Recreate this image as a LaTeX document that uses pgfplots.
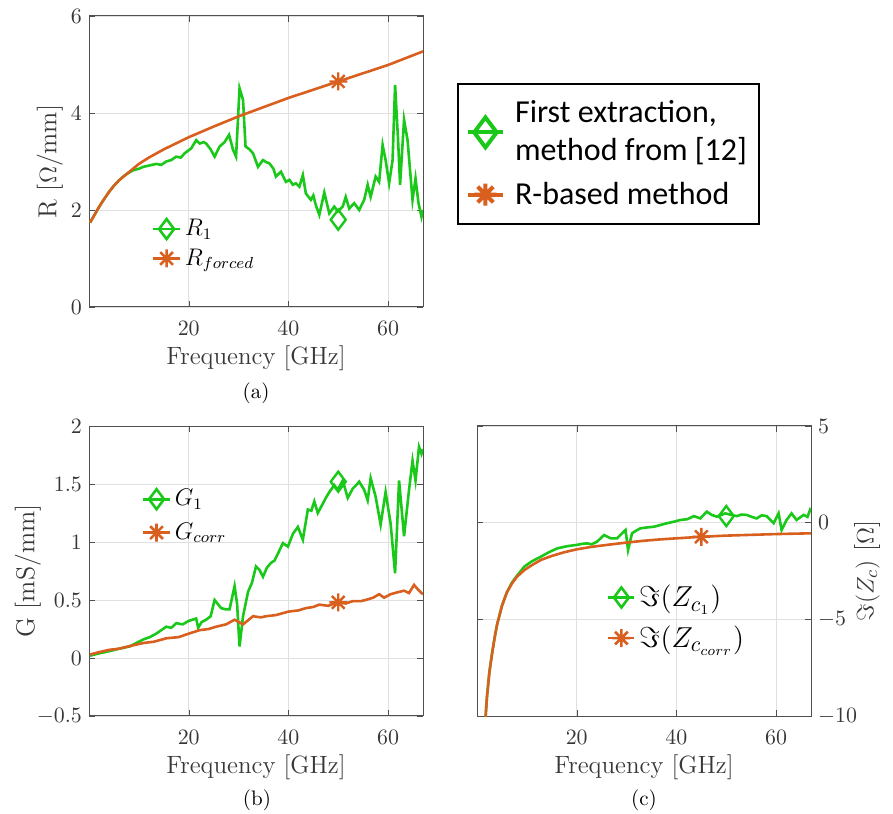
\documentclass[border=0pt]{standalone}
\usepackage{fontspec}
\usepackage{pgfplots}
\pgfplotsset{compat=1.18}
\newfontfamily\legfont{Carlito}

\definecolor{mgreen}{RGB}{25,200,25}
\definecolor{morange}{RGB}{217,95,30}
\definecolor{axgray}{RGB}{80,80,80}
\definecolor{txtgray}{RGB}{55,55,55}

% matlab style '*' marker (plus and cross)
\pgfdeclareplotmark{mstar}{%
  \pgfpathmoveto{\pgfqpoint{0pt}{\pgfplotmarksize}}\pgfpathlineto{\pgfqpoint{0pt}{-\pgfplotmarksize}}%
  \pgfpathmoveto{\pgfqpoint{\pgfplotmarksize}{0pt}}\pgfpathlineto{\pgfqpoint{-\pgfplotmarksize}{0pt}}%
  \pgfpathmoveto{\pgfqpoint{.7071\pgfplotmarksize}{.7071\pgfplotmarksize}}\pgfpathlineto{\pgfqpoint{-.7071\pgfplotmarksize}{-.7071\pgfplotmarksize}}%
  \pgfpathmoveto{\pgfqpoint{-.7071\pgfplotmarksize}{.7071\pgfplotmarksize}}\pgfpathlineto{\pgfqpoint{.7071\pgfplotmarksize}{-.7071\pgfplotmarksize}}%
  \pgfusepathqstroke}

\pgfplotsset{
  panel/.style={
    scale only axis, width=167pt, height=145pt,
    xmin=0, xmax=67, xtick={20,40,60},
    grid=major, grid style={black!12, line width=0.4pt},
    axis line style={axgray, line width=0.5pt},
    tick style={axgray}, tick align=inside, major tick length=3pt,
    ticklabel style={font=\fontsize{11}{13}\selectfont, text=txtgray},
    xticklabel style={yshift=-3.5pt},
    label style={font=\fontsize{12.5}{14}\selectfont, text=txtgray},
    xlabel={Frequency [GHz]},
    xlabel style={at={(axis description cs:0.5,-0.175)}, anchor=center},
    legend style={draw=none, fill=none, font=\fontsize{12}{14}\selectfont, cells={anchor=west}},
    legend image code/.code={\draw[mark repeat=2,mark phase=2] plot coordinates {(0cm,0cm)(0.23cm,0cm)(0.46cm,0cm)};},
    clip mode=individual,
  },
  gline/.style={color=mgreen, line width=1.3pt, no markers},
  oline/.style={color=morange, line width=1.3pt, no markers},
  gmark/.style={color=mgreen, line width=1.2pt, only marks, mark=diamond, mark size=5pt},
  omark/.style={color=morange, line width=1.2pt, only marks, mark=mstar, mark size=4.5pt},
}

\begin{document}
\begin{tikzpicture}
\path[use as bounding box] (0,0) rectangle (446.5pt,406.5pt);

% ---------- (a) ----------
\begin{axis}[panel, at={(44.5pt,253pt)}, anchor=south west, height=145.5pt,
  ymin=0, ymax=6, ytick={0,2,4,6},
  ylabel={R [$\Omega$/mm]},
  ylabel style={at={(axis description cs:-0.117,0.5)}, anchor=center, font=\fontsize{13}{15}\selectfont},
  legend style={at={(0.17,0.33)}, anchor=north west, row sep=1pt}]
\addplot[gline, forget plot] coordinates {
(0.2,1.74) (1,1.88) (2,2.06) (3,2.22) (4,2.37) (5,2.50) (6,2.61) (7,2.70) (8,2.77)
(8.9,2.82) (10.0,2.85) (10.9,2.89) (12.2,2.92) (13.5,2.95) (14.5,2.93) (15.5,3.00) (16.5,3.03)
(17.5,3.10) (18.4,3.08) (19.2,3.17) (20.5,3.27) (21.5,3.44) (22.2,3.37) (23.0,3.40) (23.5,3.37)
(24.4,3.25) (25.2,3.10) (26.2,3.31) (27.2,3.40) (28.1,3.55) (28.9,3.24) (29.5,3.10) (30.2,4.51)
(30.9,4.27) (31.4,3.31) (32.2,3.25) (32.9,3.17) (33.9,2.89) (34.9,3.03) (35.5,2.99) (36.2,2.96)
(37.0,2.85) (37.5,2.69) (38.5,2.79) (39.5,2.58) (40.2,2.62) (40.9,2.52) (41.5,2.55) (42.2,2.48)
(42.9,2.72) (43.5,2.34) (44.5,2.21) (45.0,2.30) (45.5,2.10) (46.2,1.90) (47.2,2.36) (48.2,1.93)
(49.2,2.07) (49.9,1.97) (50.9,2.07) (51.5,2.27) (52.2,2.03) (53.2,2.14) (54.2,2.00) (55.2,2.21)
(55.9,2.52) (56.5,2.27) (57.5,2.69) (58.2,2.58) (58.9,3.34) (59.5,3.03) (60.2,2.55) (60.9,3.03)
(61.4,4.58) (62.0,3.44) (62.4,2.52) (63.2,3.86) (63.9,3.44) (64.9,2.21) (65.5,2.65) (66.1,2.14)
(66.7,1.86) (67,2.0)
};
\addplot[oline, forget plot] coordinates {
(0.2,1.74) (1,1.88) (2,2.06) (3,2.22) (4,2.37) (5,2.50) (6,2.61) (8,2.78) (10,2.95)
(12,3.08) (15,3.25) (20,3.50) (25,3.72) (30,3.93) (35,4.12) (40,4.31) (45,4.48) (50,4.65)
(55,4.82) (60,4.99) (67,5.27)
};
\addplot[gmark, forget plot] coordinates {(50,1.80)};
\addplot[omark, forget plot] coordinates {(50,4.65)};
\addlegendimage{color=mgreen, line width=1.3pt, mark=diamond, mark size=5pt}
\addlegendentry{$R_1$}
\addlegendimage{color=morange, line width=1.3pt, mark=mstar, mark size=4.5pt}
\addlegendentry{$R_{forced}$}
\end{axis}

% ---------- (b) ----------
\begin{axis}[panel, at={(44.5pt,48.5pt)}, anchor=south west,
  ymin=-0.5, ymax=2, ytick={-0.5,0,0.5,1,1.5,2},
  ylabel={G [mS/mm]},
  ylabel style={at={(axis description cs:-0.183,0.5)}, anchor=center, font=\fontsize{13}{15}\selectfont},
  legend style={at={(0.14,0.81)}, anchor=north west, row sep=3pt}]
\addplot[gline, forget plot] coordinates {
(0.2,0.02) (2,0.04) (4.2,0.06) (6,0.08) (8.2,0.10) (9.5,0.13) (10.9,0.16) (12.2,0.18)
(13.5,0.21) (14.5,0.24) (15.5,0.27) (16.5,0.26) (17.5,0.30) (18.8,0.29) (20,0.32) (21.5,0.34)
(21.9,0.26) (22.6,0.31) (23.5,0.33) (24.4,0.36) (25.2,0.50) (26.5,0.43) (27.4,0.42) (28.2,0.42)
(29.2,0.62) (29.7,0.47) (30.2,0.10) (30.9,0.36) (31.9,0.57) (32.7,0.65) (33.5,0.79) (34.2,0.76)
(34.9,0.70) (35.7,0.78) (36.5,0.82) (37.2,0.84) (37.9,0.90) (38.9,0.99) (39.9,0.96) (40.9,1.07)
(41.9,1.13) (42.9,1.02) (43.9,1.28) (44.6,1.27) (45.2,1.35) (45.9,1.25) (46.9,1.33) (47.5,1.38)
(48.2,1.43) (49.2,1.49) (49.9,1.45) (50.9,1.53) (51.9,1.38) (52.9,1.46) (53.6,1.49) (54.2,1.52)
(55.2,1.45) (55.9,1.36) (56.5,1.55) (57.5,1.39) (58.5,1.15) (59.5,1.43) (60.5,1.16) (61.4,0.73)
(62.2,1.53) (63.2,1.05) (64.2,1.45) (64.9,1.70) (65.5,1.53) (66.2,1.82) (66.7,1.76) (67,1.80)
};
\addplot[oline, forget plot] coordinates {
(0.2,0.03) (2,0.05) (4,0.07) (6,0.08) (8.9,0.11) (11,0.13) (13,0.14) (15.5,0.17) (18,0.18)
(20,0.21) (22.2,0.24) (24,0.25) (25.5,0.27) (27.5,0.29) (29.2,0.33) (30.9,0.29) (32.9,0.36)
(34.5,0.35) (35.5,0.36) (37.5,0.37) (40,0.40) (42,0.41) (43.5,0.43) (45,0.44) (46.2,0.46)
(48,0.45) (49.9,0.48) (51.5,0.47) (52.9,0.49) (54.5,0.49) (55.5,0.50) (57,0.52) (58.2,0.55)
(59.2,0.52) (60.5,0.55) (62.2,0.57) (63.2,0.58) (64.2,0.56) (65.2,0.63) (66,0.59) (66.7,0.56) (67,0.55)
};
\addplot[gmark, forget plot] coordinates {(50,1.52)};
\addplot[omark, forget plot] coordinates {(50,0.48)};
\addlegendimage{color=mgreen, line width=1.3pt, mark=diamond, mark size=5pt}
\addlegendentry{$G_1$}
\addlegendimage{color=morange, line width=1.3pt, mark=mstar, mark size=4.5pt}
\addlegendentry{$G_{corr}$}
\end{axis}

% ---------- (c) ----------
\begin{axis}[panel, at={(238.5pt,48.5pt)}, anchor=south west,
  ymin=-10, ymax=5, ytick={-10,-5,0,5},
  yticklabel pos=right,
  ylabel={$\Im(Z_c)$ [$\Omega$]},
  ylabel style={at={(axis description cs:1.168,0.5)}, anchor=center, font=\fontsize{13}{15}\selectfont},
  legend style={at={(0.37,0.48)}, anchor=north west, row sep=4pt, font=\fontsize{15}{17}\selectfont}]
\addplot[gline, forget plot] coordinates {
(1.6,-10.5) (2,-9.0) (2.5,-7.7) (3,-6.8) (3.5,-6.0) (4,-5.3) (5,-4.3) (6,-3.6) (7,-3.1)
(8,-2.75) (9.5,-2.27) (11,-2.0) (12.8,-1.76) (14.5,-1.52) (16.1,-1.33) (18,-1.22) (20,-1.15)
(21,-1.10) (22.1,-1.07) (23,-1.12) (24.1,-0.98) (25.5,-0.64) (26.8,-0.81) (28.1,-0.81) (29.1,-0.55)
(29.8,-0.38) (30.3,-1.41) (31.1,-0.55) (32.0,-0.40) (32.8,-0.29) (34,-0.25) (35.5,-0.21) (36.8,-0.12)
(38.1,-0.03) (39.5,0.05) (40.8,0.14) (42.2,0.18) (43.5,0.34) (44.8,0.22) (46.1,0.57) (47.1,0.40)
(48.1,0.31) (49.8,0.48) (51,0.40) (52.1,0.34) (53.1,0.42) (54.1,0.40) (55.1,0.30) (56.1,0.22)
(57.1,0.38) (58.1,0.34) (59.5,-0.03) (60.5,0.48) (61.1,-0.38) (62.1,0.14) (63.1,0.48) (64.1,0.14)
(65.5,0.40) (66.3,0.30) (66.8,0.65) (67,0.55)
};
\addplot[oline, forget plot] coordinates {
(1.6,-10.5) (2,-9.0) (2.5,-7.7) (3,-6.8) (3.5,-6.0) (4,-5.3) (5,-4.3) (6,-3.6) (7,-3.15)
(8,-2.8) (9.5,-2.45) (11,-2.2) (12.8,-1.93) (15,-1.72) (17.5,-1.53) (20,-1.38) (23,-1.25)
(26.7,-1.13) (30,-1.03) (33.3,-0.94) (36.5,-0.87) (40,-0.81) (45,-0.73) (50,-0.67) (55,-0.63)
(60,-0.59) (67,-0.55)
};
\addplot[gmark, forget plot] coordinates {(50,0.34)};
\addplot[omark, forget plot] coordinates {(45,-0.73)};
\addlegendimage{color=mgreen, line width=1.3pt, mark=diamond, mark size=5pt}
\addlegendentry{$\Im(Z_{c_1})$}
\addlegendimage{color=morange, line width=1.3pt, mark=mstar, mark size=4.5pt}
\addlegendentry{$\Im(Z_{c_{corr}})$}
\end{axis}

% ---------- shared legend ----------
\begin{axis}[hide axis, scale only axis, width=10pt, height=10pt,
  at={(228.5pt,365pt)}, anchor=north west, xmin=0, xmax=1, ymin=0, ymax=1,
  legend style={at={(0,1)}, anchor=north west, draw=black, line width=0.8pt,
    font=\legfont\fontsize{16}{19}\selectfont, cells={anchor=west, align=left},
    inner xsep=4pt, inner ysep=6.5pt, row sep=5pt,
    /tikz/every odd column/.append style={column sep=3pt}},
  legend image code/.code={\draw[mark repeat=2,mark phase=2] plot coordinates {(0cm,0cm)(0.31cm,0cm)(0.62cm,0cm)};}]
\addlegendimage{color=mgreen, line width=2pt, mark=diamond, mark size=7.5pt}
\addlegendentry{First extraction,\\method from [12]}
\addlegendimage{color=morange, line width=2pt, mark=mstar, mark size=5.5pt}
\addlegendentry{R-based method}
\end{axis}

\node[font=\fontsize{10.5}{12}\selectfont] at (128pt,210pt) {(a)};
\node[font=\fontsize{10.5}{12}\selectfont] at (128.5pt,6.5pt) {(b)};
\node[font=\fontsize{10.5}{12}\selectfont] at (322pt,6.5pt) {(c)};
\end{tikzpicture}
\end{document}
